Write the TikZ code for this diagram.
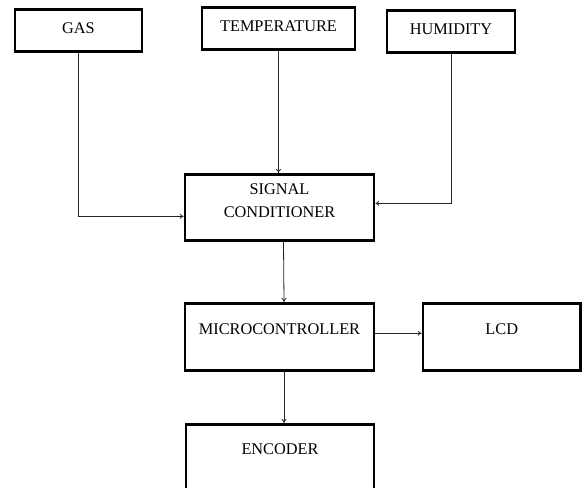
\documentclass[tikz,border=0pt]{standalone}
\usepackage{fontspec}
\setmainfont{Liberation Serif}
\usetikzlibrary{arrows.meta}
\begin{document}
\begin{tikzpicture}[x=1pt, y=-1pt, >={To[length=4pt, width=5pt]},
    box/.style={draw, line width=2.6pt, inner xsep=2pt, inner ysep=0pt, anchor=north,
        font=\fontsize{16.3}{23}\selectfont, align=center},
    topbox/.style={box, text height=24pt, text depth=18pt},
    bigbox/.style={box, minimum width=189pt, text height=31.5pt, text depth=35.5pt},
    link/.style={->, line width=0.8pt, draw=black!85}]
        \useasboundingbox (0,0) rectangle (582,488);
        \clip (0,0) rectangle (582,488);

        % Top row: sensor blocks
        \node[topbox, minimum width=127pt] (gas) at (78.5,8) {GAS};
        \node[topbox, minimum width=153pt] (temp) at (278.5,6) {TEMPERATURE};
        \node[topbox, minimum width=128pt] (hum) at (451,9) {HUMIDITY};

        % Processing chain
        \node[box, minimum width=189pt, text height=43.5pt, text depth=22.5pt] (sc) at (279.5,173) {SIGNAL\\CONDITIONER};
        \node[bigbox] (mc) at (279.5,302) {MICROCONTROLLER};
        \node[bigbox, minimum width=157.5pt] (lcd) at (501.75,302) {LCD};
        \node[bigbox, minimum width=188pt, text height=30.5pt, text depth=36.5pt] (enc) at (280,423) {ENCODER};

        % Connectors
        \draw[link] (gas.south) |- ([yshift=-9pt]sc.west);
        \draw[link] (temp.south) -- (temp.south |- sc.north);
        \draw[link] (hum.south) |- ([yshift=4pt]sc.east);
        \draw[link] ([xshift=4pt]sc.south) -- ([xshift=4.5pt]mc.north);
        \draw[link] ([yshift=3.5pt]mc.east) -- ([yshift=3.5pt]mc.east -| lcd.west);
        \draw[link] ([xshift=4.5pt]mc.south) -- ([xshift=4.5pt]mc.south |- enc.north);
    \end{tikzpicture}
\end{document}
